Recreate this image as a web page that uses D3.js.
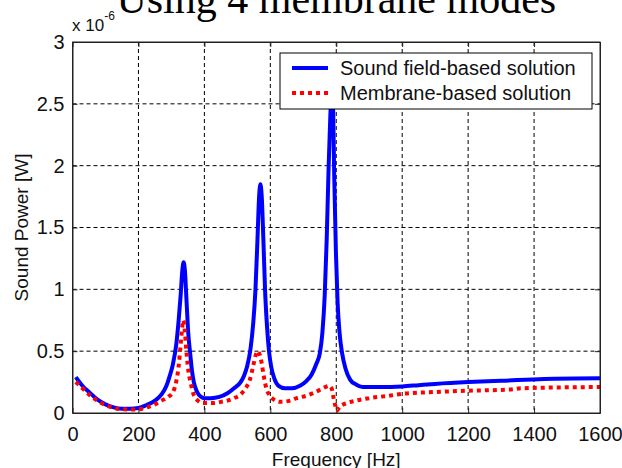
<!DOCTYPE html>
<html>
<head>
<meta charset="utf-8">
<script src="https://cdn.jsdelivr.net/npm/d3@7"></script>
<style>
  body { margin: 0; background: #fff; }
  text { font-family: "Liberation Sans", Arial, sans-serif; }
</style>
</head>
<body>
<script>
// frequencies [Hz] and sound power [x 1e-6 W]
var freqField = [10, 30, 50, 75, 100, 125, 150, 175, 200, 225, 250, 270, 285, 295, 305, 315, 322, 328, 333, 337, 341, 346, 351, 357, 362, 368, 378, 390, 400, 420, 445, 470, 490, 510, 520, 530, 540, 548, 555, 561, 566, 570, 574, 579, 584, 590, 596, 603, 612, 625, 645, 665, 690, 710, 725, 740, 750, 758, 765, 771, 777, 782, 786, 790, 794, 799, 804, 810, 818, 828, 842, 860, 880, 930, 1000, 1050, 1100, 1200, 1300, 1430, 1600];
var powerField = [0.29, 0.22, 0.17, 0.11, 0.07, 0.045, 0.035, 0.035, 0.04, 0.065, 0.1, 0.15, 0.22, 0.3, 0.4, 0.56, 0.75, 0.95, 1.15, 1.22, 1.15, 0.9, 0.65, 0.48, 0.35, 0.25, 0.17, 0.13, 0.12, 0.12, 0.13, 0.16, 0.2, 0.25, 0.3, 0.38, 0.52, 0.72, 1.0, 1.4, 1.75, 1.85, 1.75, 1.4, 1.0, 0.7, 0.5, 0.37, 0.28, 0.22, 0.2, 0.2, 0.22, 0.26, 0.31, 0.4, 0.48, 0.65, 0.95, 1.4, 2.0, 2.4, 2.6, 2.5, 1.9, 1.3, 0.9, 0.65, 0.48, 0.36, 0.27, 0.23, 0.21, 0.21, 0.215, 0.225, 0.235, 0.25, 0.26, 0.275, 0.28];

var freqMembrane = [10, 30, 50, 75, 100, 125, 150, 175, 200, 225, 250, 270, 290, 305, 315, 322, 328, 333, 336, 340, 346, 352, 358, 366, 380, 396, 425, 450, 470, 490, 510, 525, 538, 548, 556, 562, 568, 574, 580, 588, 598, 610, 630, 660, 680, 710, 730, 760, 778, 786, 792, 797, 802, 810, 832, 860, 900, 960, 1000, 1100, 1200, 1330, 1360, 1600];
var powerMembrane = [0.25, 0.2, 0.15, 0.1, 0.065, 0.04, 0.03, 0.028, 0.03, 0.045, 0.07, 0.1, 0.13, 0.17, 0.26, 0.38, 0.55, 0.7, 0.75, 0.68, 0.48, 0.33, 0.25, 0.16, 0.1, 0.08, 0.08, 0.09, 0.1, 0.12, 0.15, 0.2, 0.27, 0.38, 0.47, 0.5, 0.47, 0.4, 0.3, 0.2, 0.14, 0.11, 0.09, 0.1, 0.12, 0.14, 0.16, 0.2, 0.22, 0.2, 0.12, 0.06, 0.02, 0.05, 0.08, 0.1, 0.12, 0.14, 0.155, 0.17, 0.18, 0.19, 0.2, 0.21];

var xTicks = [0, 200, 400, 600, 800, 1000, 1200, 1400, 1600];
var yTicks = [0, 0.5, 1, 1.5, 2, 2.5, 3];
var legendLabels = ["Sound field-based solution", "Membrane-based solution"];

var margin = {top: 42, right: 22, bottom: 55, left: 72.5},
    width = 622 - margin.left - margin.right,
    height = 468 - margin.top - margin.bottom;

var svgRoot = d3.select("body").append("svg")
    .attr("width", 622)
    .attr("height", 468);

var svg = svgRoot.append("g")
    .attr("transform", "translate(" + margin.left + "," + margin.top + ")");

var x = d3.scaleLinear().domain([0, 1600]).range([0, width]);
var y = d3.scaleLinear().domain([0, 3]).range([height, 0]);

// grid
svg.selectAll(".vgrid")
    .data(xTicks.slice(1, -1))
  .enter().append("line")
    .attr("x1", d => x(d)).attr("x2", d => x(d))
    .attr("y1", 0).attr("y2", height)
    .attr("stroke", "#000").attr("stroke-width", 1)
    .attr("stroke-dasharray", "4,3");

svg.selectAll(".hgrid")
    .data(yTicks.slice(1, -1))
  .enter().append("line")
    .attr("x1", 0).attr("x2", width)
    .attr("y1", d => y(d)).attr("y2", d => y(d))
    .attr("stroke", "#000").attr("stroke-width", 1)
    .attr("stroke-dasharray", "4,3");

// axes with inward ticks
var fmt = d3.format("");
svg.append("g").attr("transform", "translate(0," + height + ")")
    .call(d3.axisBottom(x).tickValues(xTicks).tickSize(-5).tickSizeOuter(0).tickPadding(14).tickFormat(fmt));
svg.append("g")
    .call(d3.axisLeft(y).tickValues(yTicks).tickSize(-5).tickSizeOuter(0).tickPadding(8).tickFormat(fmt));
svg.append("g")
    .call(d3.axisTop(x).tickValues(xTicks).tickSize(-5).tickSizeOuter(0).tickFormat(""));
svg.append("g").attr("transform", "translate(" + width + ",0)")
    .call(d3.axisRight(y).tickValues(yTicks).tickSize(-5).tickSizeOuter(0).tickFormat(""));

svg.selectAll(".domain, .tick line").attr("stroke", "#222");
svg.selectAll(".tick text")
    .attr("fill", "#111")
    .style("font-size", "20px");

// curves
var line = d3.line()
    .x(d => x(d[0]))
    .y(d => y(d[1]))
    .curve(d3.curveMonotoneX);

var fieldData = d3.zip(freqField, powerField);
var membraneData = d3.zip(freqMembrane, powerMembrane);

svg.append("clipPath").attr("id", "clip")
  .append("rect").attr("width", width).attr("height", height);

svg.append("path")
    .datum(fieldData)
    .attr("clip-path", "url(#clip)")
    .attr("fill", "none")
    .attr("stroke", "#0000ff")
    .attr("stroke-width", 4)
    .attr("d", line);

svg.append("path")
    .datum(membraneData)
    .attr("clip-path", "url(#clip)")
    .attr("fill", "none")
    .attr("stroke", "#ff0000")
    .attr("stroke-width", 4)
    .attr("stroke-dasharray", "4,4")
    .attr("d", line);

// box
svg.append("rect")
    .attr("width", width).attr("height", height)
    .attr("fill", "none").attr("stroke", "#222");

// legend
var lg = svgRoot.append("g").attr("transform", "translate(280,53)");
lg.append("rect")
    .attr("width", 312).attr("height", 56)
    .attr("fill", "#fff").attr("stroke", "#000");
var entries = lg.selectAll(".entry")
    .data(legendLabels)
  .enter().append("g")
    .attr("transform", (d, i) => "translate(0," + (15 + i * 25) + ")");
entries.append("line")
    .attr("x1", 12).attr("x2", 48)
    .attr("stroke", (d, i) => i === 0 ? "#0000ff" : "#ff0000")
    .attr("stroke-width", 4)
    .attr("stroke-dasharray", (d, i) => i === 0 ? null : "4,4");
entries.append("text")
    .attr("x", 60).attr("dy", "0.35em")
    .style("font-size", "20px")
    .attr("fill", "#111")
    .text(d => d);

// labels
svgRoot.append("text")
    .attr("x", margin.left + width / 2).attr("y", 13)
    .attr("text-anchor", "middle")
    .style("font-family", "'Liberation Serif', 'Times New Roman', serif")
    .style("font-size", "42px")
    .text("Using 4 membrane modes");

svgRoot.append("text")
    .attr("x", margin.left + width / 2).attr("y", 466)
    .attr("text-anchor", "middle")
    .style("font-size", "19px")
    .attr("fill", "#111")
    .text("Frequency [Hz]");

svgRoot.append("text")
    .attr("transform", "translate(28," + (margin.top + height / 2) + ") rotate(-90)")
    .attr("text-anchor", "middle")
    .style("font-size", "19px")
    .attr("fill", "#111")
    .text("Sound Power [W]");

var mult = svgRoot.append("text")
    .attr("x", 72).attr("y", 31)
    .style("font-size", "17px")
    .attr("fill", "#111");
mult.append("tspan").text("x 10");
mult.append("tspan").attr("dy", -11).style("font-size", "12px").text("-6");
</script>
</body>
</html>
